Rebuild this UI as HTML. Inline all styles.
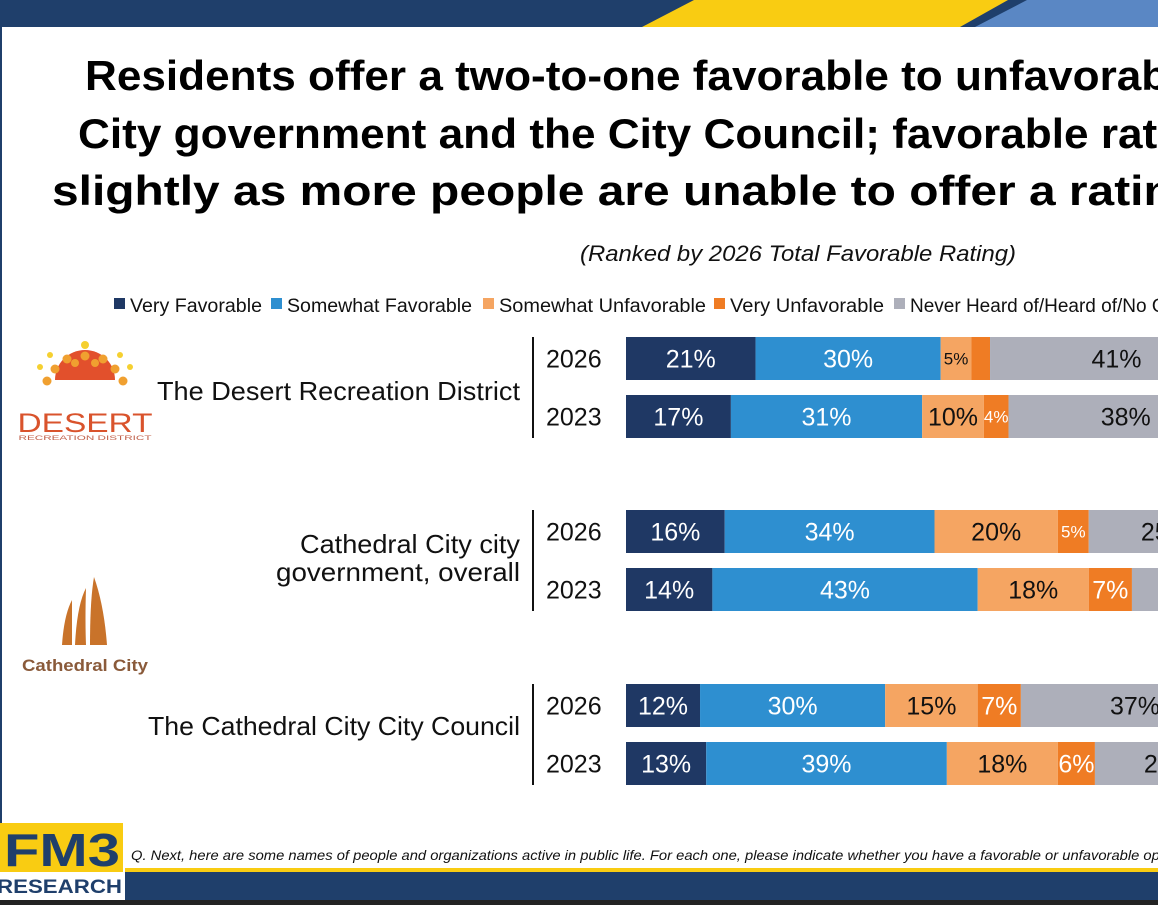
<!DOCTYPE html>
<html><head><meta charset="utf-8">
<style>
html,body{margin:0;padding:0;background:#fff;}
body{width:1158px;height:905px;overflow:hidden;position:relative;font-family:"Liberation Sans",sans-serif;}
svg{display:block;}
</style></head>
<body>
<svg id="chart" width="1158" height="905" viewBox="0 0 1158 905" xmlns="http://www.w3.org/2000/svg">
  <g>
    <rect x="0" y="0" width="1158" height="27" fill="#1f3f6b"/>
    <polygon points="694,0 1008,0 960,27 642,27" fill="#f9cc12"/>
    <polygon points="1027,0 1158,0 1158,27 975,27" fill="#5a87c4"/>
  </g>
  <rect x="0" y="0" width="2" height="905" fill="#1f3f6b"/>

  <g font-family="'Liberation Sans',sans-serif" font-weight="bold" font-size="42" fill="#000">
    <text x="85" y="90" textLength="1120" lengthAdjust="spacingAndGlyphs">Residents offer a two-to-one favorable to unfavorable</text>
    <text x="78" y="148" textLength="1170" lengthAdjust="spacingAndGlyphs">City government and the City Council; favorable ratings</text>
    <text x="52" y="205" textLength="1150" lengthAdjust="spacingAndGlyphs">slightly as more people are unable to offer a rating</text>
  </g>
  <text x="580" y="261" font-size="22" font-style="italic" fill="#111" textLength="436" lengthAdjust="spacingAndGlyphs">(Ranked by 2026 Total Favorable Rating)</text>

  <g id="legend"></g>

  <g>
    <path d="M55,380 A30,30 0 0 1 115,380 Z" fill="#e2502c"/>
    <g fill="#f0a030">
      <circle cx="85" cy="345" r="4" fill="#f5d030"/><circle cx="85" cy="356" r="4.5"/>
      <circle cx="67" cy="359" r="4.5"/><circle cx="103" cy="359" r="4.5"/>
      <circle cx="55" cy="369" r="4.5"/><circle cx="115" cy="369" r="4.5"/>
      <circle cx="47" cy="381" r="4.5"/><circle cx="123" cy="381" r="4.5"/>
      <circle cx="75" cy="363" r="4"/><circle cx="95" cy="363" r="4"/>
      <circle cx="40" cy="367" r="3" fill="#f5d030"/><circle cx="130" cy="367" r="3" fill="#f5d030"/>
      <circle cx="50" cy="355" r="3" fill="#f5d030"/><circle cx="120" cy="355" r="3" fill="#f5d030"/>
    </g>
    <text x="85" y="432" font-size="27" fill="#d9532c" text-anchor="middle" textLength="135" lengthAdjust="spacingAndGlyphs">DESERT</text>
    <text x="85" y="440" font-size="6.5" fill="#c0604a" text-anchor="middle" textLength="133" lengthAdjust="spacingAndGlyphs">RECREATION DISTRICT</text>
  </g>
  <g fill="#c9732a">
    <path d="M62,645 Q64,615 72,600 L72,645 Z"/>
    <path d="M75,645 Q77,605 86,588 Q85,620 86,645 Z"/>
    <path d="M90,645 Q90,600 94,577 Q104,605 107,645 Z"/>
    <text x="85" y="671" font-size="17" font-weight="bold" fill="#8a5a3a" text-anchor="middle" textLength="126" lengthAdjust="spacingAndGlyphs">Cathedral City</text>
  </g>

  <g id="bars"></g>

  <g>
    <rect x="125" y="868" width="1033" height="4" fill="#f9cc12"/>
    <rect x="125" y="872" width="1033" height="28" fill="#1f3f6b"/>
    <rect x="0" y="900" width="1158" height="5" fill="#222"/>
    <rect x="0" y="823" width="123" height="49" fill="#f9cc12"/>
    <text x="4" y="866" font-size="46" font-weight="bold" fill="#1f3f6b" textLength="116" lengthAdjust="spacingAndGlyphs">FM3</text>
    <rect x="0" y="872" width="125" height="28" fill="#fff"/>
    <text x="-3" y="893" font-size="19" font-weight="bold" fill="#1f3f6b" textLength="125" lengthAdjust="spacingAndGlyphs">RESEARCH</text>
    <text x="131" y="860" font-size="14" font-style="italic" fill="#111" textLength="1060" lengthAdjust="spacingAndGlyphs">Q. Next, here are some names of people and organizations active in public life.  For each one, please indicate whether you have a favorable or unfavorable opinion</text>
  </g>
</svg>
<script>
const NS="http://www.w3.org/2000/svg";
const categories=["The Desert Recreation District","Cathedral City city government, overall","The Cathedral City City Council"];
const years=["2026","2023"];
const seriesNames=["Very Favorable","Somewhat Favorable","Somewhat Unfavorable","Very Unfavorable","Never Heard of/Heard of/No Opinion"];
const veryFav=[[21,17],[16,14],[12,13]];
const somewhatFav=[[30,31],[34,43],[30,39]];
const somewhatUnfav=[[5,10],[20,18],[15,18]];
const veryUnfav=[[3,4],[5,7],[7,6]];
const neverHeard=[[41,38],[25,18],[37,24]];
const labelShown=[[[1,1,1,0,1],[1,1,1,1,1]],[[1,1,1,1,1],[1,1,1,1,1]],[[1,1,1,1,1],[1,1,1,1,1]]];

const colors=["#1f3864","#2e8fd0","#f5a562","#ef7c24","#adafba"];
const textColors=["#fff","#fff","#111","#fff","#111"];
const x0=626, pxPer=6.17;
const xScale=v=>x0+v*pxPer;
const groupTop=[337,510,684], rowGap=58, barH=43;
function mk(tag,attrs,parent){const e=document.createElementNS(NS,tag);for(const k in attrs)e.setAttribute(k,attrs[k]);parent.appendChild(e);return e;}

const legend=document.getElementById('legend');
const legX=[114,271,483,714,894];
const legW=[132,185,207,154,0];
seriesNames.forEach((n,i)=>{
  const g=mk('g',{},legend);
  
  
  mk('rect',{x:legX[i],y:298,width:11,height:11,fill:colors[i]},g);
  const at={x:legX[i]+16,y:312,'font-size':19,fill:'#111'};
  if(legW[i]){at.textLength=legW[i];at.lengthAdjust='spacingAndGlyphs';}
  const t=mk('text',at,g);
  t.textContent=n;
});

const bars=document.getElementById('bars');
const all=[veryFav,somewhatFav,somewhatUnfav,veryUnfav,neverHeard];
const catLines=[["The Desert Recreation District"],["Cathedral City city","government, overall"],["The Cathedral City City Council"]];
const catBase=[[400],[553,581],[735]];
const catW=[[363],[220,244],[372]];
categories.forEach((c,ci)=>{
  const top=groupTop[ci];
  const lab=mk('text',{x:520,'text-anchor':'end','font-size':26,fill:'#111'},bars);
  
  
  catLines[ci].forEach((l,li)=>{const ts=mk('tspan',{x:520,y:catBase[ci][li],textLength:catW[ci][li],lengthAdjust:'spacingAndGlyphs'},lab);ts.textContent=l;});
  const div=mk('line',{x1:533,x2:533,y1:top,y2:top+rowGap+barH,stroke:'#111','stroke-width':2},bars);
  
  
  years.forEach((y,yi)=>{
    const by=top+yi*rowGap;
    const yl=mk('text',{x:546,y:by+barH/2+9,'font-size':25,fill:'#111'},bars);
    
    
    yl.textContent=y;
    let cum=0;
    all.forEach((s,si)=>{
      const v=s[ci][yi];
      const r=mk('rect',{x:xScale(cum),y:by,width:v*pxPer,height:barH,fill:colors[si]},bars);
      
      
      if(labelShown[ci][yi][si]){
        const small=v<=5;
        const t=mk('text',{x:xScale(cum+v/2),y:by+barH/2+(small?6:9),'text-anchor':'middle','font-size':small?17:25,fill:textColors[si]},bars);
        
        
        t.textContent=v+'%';
      }
      cum+=v;
    });
  });
});
</script>
</body></html>
